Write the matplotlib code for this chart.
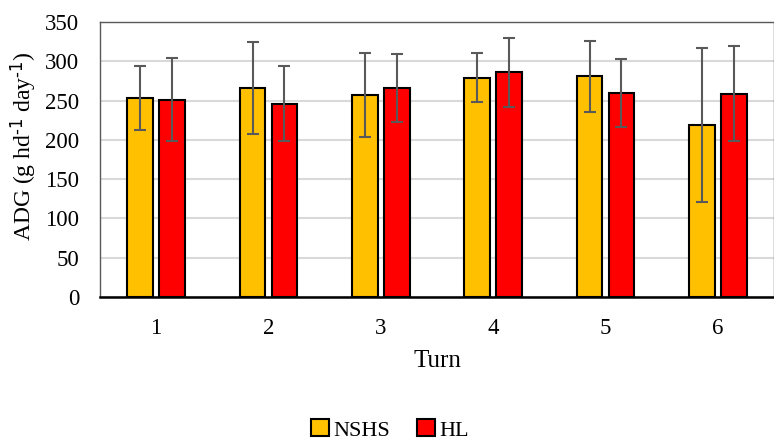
import matplotlib
matplotlib.use("Agg")
from matplotlib import pyplot as plt
import numpy as np

# Data
turns = ["1", "2", "3", "4", "5", "6"]
nshs = [253, 266, 257, 279, 281, 219]
nshs_err = [41, 59, 53, 31, 45, 98]
hl = [251, 246, 266, 286, 260, 259]
hl_err = [53, 48, 43, 44, 43, 60]

plt.rcParams['font.family'] = ['Liberation Serif', 'DejaVu Serif']
plt.rcParams['mathtext.default'] = 'regular'

fig = plt.figure(figsize=(7.74, 4.41), dpi=100)
ax = fig.add_axes([100 / 774, 1 - 297 / 441, 674 / 774, 275 / 441])

x = np.arange(len(turns))
w = 0.23
off = 0.142
errkw = dict(ecolor='#595959', elinewidth=1.5, capsize=4, capthick=1.5)
ax.bar(x - off, nshs, w, yerr=nshs_err, color='#FFC000', edgecolor='black',
       linewidth=1.5, error_kw=errkw, label='NSHS', zorder=3)
ax.bar(x + off, hl, w, yerr=hl_err, color='#FF0000', edgecolor='black',
       linewidth=1.5, error_kw=errkw, label='HL', zorder=3)

ax.set_xlim(-0.5, len(turns) - 0.5)
ax.set_ylim(0, 350)
ax.set_yticks(np.arange(0, 351, 50))
ax.set_xticks(x)
ax.set_xticklabels(turns)
ax.tick_params(axis='both', length=0, labelsize=16.5, colors='black')
ax.tick_params(axis='x', pad=15)
ax.tick_params(axis='y', pad=15)
ax.yaxis.grid(True, color='#d9d9d9', linewidth=1.5, zorder=0)
ax.set_axisbelow(True)

for s in ['top', 'left', 'right']:
    ax.spines[s].set_color('#595959')
    ax.spines[s].set_linewidth(1.0)
ax.spines['bottom'].set_color('black')
ax.spines['bottom'].set_linewidth(1.8)

ax.set_xlabel('Turn', fontsize=18, labelpad=8)
ax.set_ylabel(r'ADG (g hd$^{\text{-1}}$ day$^{\text{-1}}$)', fontsize=17)
ax.yaxis.set_label_coords(-0.09, 0.55)

fig.legend(loc='center', bbox_to_anchor=(390 / 774, 1 - 430 / 441), ncol=2,
           frameon=False, fontsize=16, handlelength=0.8, handleheight=0.8,
           handletextpad=0.2, columnspacing=1.2)

fig.savefig('out.png', dpi=100)
